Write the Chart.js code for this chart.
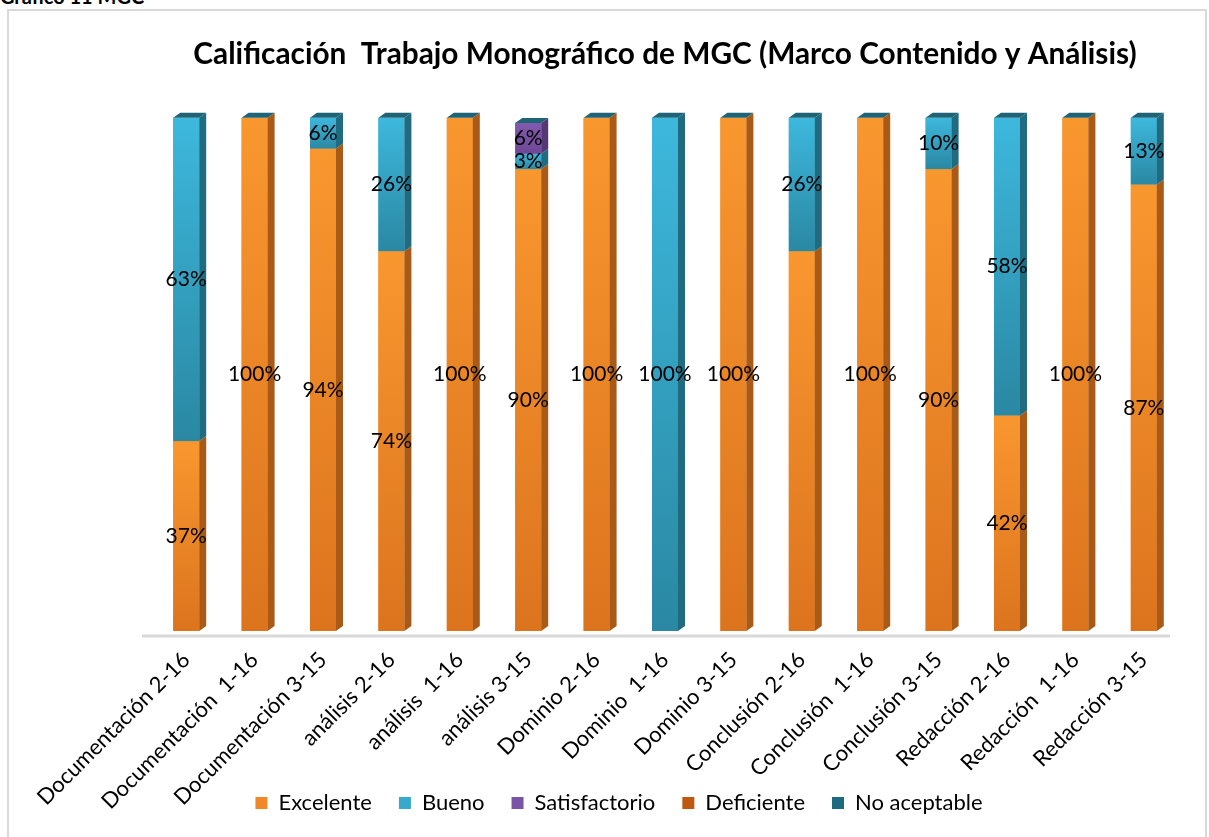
<!DOCTYPE html>
<html>
<head>
<meta charset="utf-8">
<script src="https://cdn.jsdelivr.net/npm/chart.js@4.4.1/dist/chart.umd.min.js"></script>
<style>
    html, body { margin: 0; padding: 0; background: #fff; overflow: hidden; }
    #caption { position: absolute; left: 0; top: -16px; font: bold 20px Lato, sans-serif; color: #000; }
    #frame { position: absolute; left: 7px; top: 9px; width: 1200px; height: 840px; border: 2px solid #D9D9D9; box-sizing: border-box; }
    #wrap { position: absolute; left: 0; top: 0; width: 1209px; height: 837px; }
</style>
</head>
<body>
<div id="caption">Gráfico 11 MGC</div>
<div id="frame"></div>
<div id="wrap"><canvas id="graficoCalificacion" width="1209" height="837"></canvas></div>
<script>
const categorias = [
    'Documentación 2-16', 'Documentación  1-16', 'Documentación 3-15',
    'análisis 2-16', 'análisis  1-16', 'análisis 3-15',
    'Dominio 2-16', 'Dominio  1-16', 'Dominio 3-15',
    'Conclusión 2-16', 'Conclusión  1-16', 'Conclusión 3-15',
    'Redacción 2-16', 'Redacción  1-16', 'Redacción 3-15'
];
const excelente     = [37, 100, 94, 74, 100, 90, 100, 0, 100, 74, 100, 90, 42, 100, 87];
const bueno         = [63, 0, 6, 26, 0, 3, 0, 100, 0, 26, 0, 10, 58, 0, 13];
const satisfactorio = [0, 0, 0, 0, 0, 6, 0, 0, 0, 0, 0, 0, 0, 0, 0];
const deficiente    = [0, 0, 0, 0, 0, 0, 0, 0, 0, 0, 0, 0, 0, 0, 0];
const noAceptable   = [0, 0, 0, 0, 0, 0, 0, 0, 0, 0, 0, 0, 0, 0, 0];
// [serie, categoria] sin etiqueta en el original
const etiquetasOcultas = [[0, 9]];

const fuente = 'Lato, "Open Sans", sans-serif';

// caras 3D: dibuja frente con degradado, lado derecho y tapa
const barras3D = {
    id: 'barras3D',
    afterLayout(chart) {
        // que las etiquetas giradas no se recorten al borde del eje
        const x = chart.scales.x;
        x.bottom = chart.height;
        x.height = x.bottom - x.top;
    },
    beforeDatasetsDraw(chart) {
        const ctx = chart.ctx, a = chart.chartArea;
        ctx.save();
        ctx.strokeStyle = '#D9D9D9';
        ctx.lineWidth = 3;
        ctx.beginPath();
        ctx.moveTo(a.left - 10, a.bottom + 5);
        ctx.lineTo(a.right - 8, a.bottom + 5);
        ctx.stroke();
        ctx.restore();
    },
    afterDatasetsDraw(chart) {
        const ctx = chart.ctx;
        const dx = 7, dy = 5;
        const topes = {};
        ctx.save();
        chart.data.datasets.forEach((ds, i) => {
            const meta = chart.getDatasetMeta(i);
            meta.data.forEach((bar, j) => {
                if (!ds.data[j]) return;
                const p = bar.getProps(['x', 'y', 'base', 'width'], true);
                const l = p.x - p.width / 2, r = p.x + p.width / 2;
                const t = Math.min(p.y, p.base), b = Math.max(p.y, p.base);
                const g = ctx.createLinearGradient(0, t, 0, b);
                g.addColorStop(0, ds.claro);
                g.addColorStop(1, ds.oscuro);
                ctx.fillStyle = g;
                ctx.fillRect(l, t, r - l, b - t);
                ctx.fillStyle = ds.lado;
                ctx.beginPath();
                ctx.moveTo(r, t);
                ctx.lineTo(r + dx, t - dy);
                ctx.lineTo(r + dx, b - dy);
                ctx.lineTo(r, b);
                ctx.closePath();
                ctx.fill();
                if (!topes[j] || t < topes[j].t) topes[j] = { l, r, t };
            });
        });
        Object.values(topes).forEach(({ l, r, t }) => {
            ctx.fillStyle = '#1F6377';
            ctx.beginPath();
            ctx.moveTo(l, t);
            ctx.lineTo(l + dx, t - dy);
            ctx.lineTo(r + dx, t - dy);
            ctx.lineTo(r, t);
            ctx.closePath();
            ctx.fill();
        });
        ctx.restore();
    },
    afterDraw(chart) {
        const ctx = chart.ctx;
        ctx.save();
        ctx.font = '21px ' + fuente;
        ctx.fillStyle = '#000';
        ctx.textAlign = 'center';
        ctx.textBaseline = 'middle';
        chart.data.datasets.forEach((ds, i) => {
            chart.getDatasetMeta(i).data.forEach((bar, j) => {
                const v = ds.data[j];
                if (!v) return;
                if (etiquetasOcultas.some(e => e[0] === i && e[1] === j)) return;
                const p = bar.getProps(['x', 'y', 'base'], true);
                ctx.fillText(v + '%', p.x, (p.y + p.base) / 2);
            });
        });
        ctx.restore();
    }
};

const ctx = document.getElementById('graficoCalificacion').getContext('2d');
new Chart(ctx, {
    type: 'bar',
    data: {
        labels: categorias,
        datasets: [
            { label: 'Excelente', data: excelente, backgroundColor: '#F0882A', claro: '#F9972F', oscuro: '#DC741E', lado: '#A95A17' },
            { label: 'Bueno', data: bueno, backgroundColor: '#36A9CC', claro: '#3DB8DD', oscuro: '#2A88A3', lado: '#216B80' },
            { label: 'Satisfactorio', data: satisfactorio, backgroundColor: '#7A55A3', claro: '#8259AE', oscuro: '#6E4896', lado: '#553873' },
            { label: 'Deficiente', data: deficiente, backgroundColor: '#BF5912', claro: '#C85E14', oscuro: '#B0510F', lado: '#833C0B' },
            { label: 'No aceptable', data: noAceptable, backgroundColor: '#1E6A7F', claro: '#22758C', oscuro: '#1A5D70', lado: '#134655' }
        ]
    },
    options: {
        responsive: false,
        animation: false,
        datasets: {
            bar: { barPercentage: 0.38, categoryPercentage: 1, borderWidth: 0 }
        },
        layout: { padding: { left: 60, right: 31, top: 0, bottom: 13 } },
        plugins: {
            title: {
                display: true,
                fullSize: false,
                text: 'Calificación  Trabajo Monográfico de MGC (Marco Contenido y Análisis)',
                color: '#000',
                font: { family: fuente, size: 29.8, weight: 'bold' },
                padding: { top: 37, bottom: 45 }
            },
            legend: {
                position: 'bottom',
                labels: {
                    color: '#000',
                    font: { family: fuente, size: 22 },
                    boxWidth: 12,
                    boxHeight: 12,
                    padding: 27
                }
            },
            tooltip: { enabled: false }
        },
        scales: {
            x: {
                stacked: true,
                grid: { display: false },
                border: { display: false },
                ticks: {
                    color: '#000',
                    font: { family: fuente, size: 22 },
                    minRotation: 45,
                    maxRotation: 45,
                    autoSkip: false,
                    padding: 8
                },
                afterFit: s => { s.height = 134; }
            },
            y: {
                stacked: true,
                display: true,
                min: 0,
                max: 100,
                grid: { display: false },
                border: { display: false },
                ticks: { display: false },
                afterFit: s => { s.width = 92; }
            }
        }
    },
    plugins: [barras3D]
});
</script>
</body>
</html>
